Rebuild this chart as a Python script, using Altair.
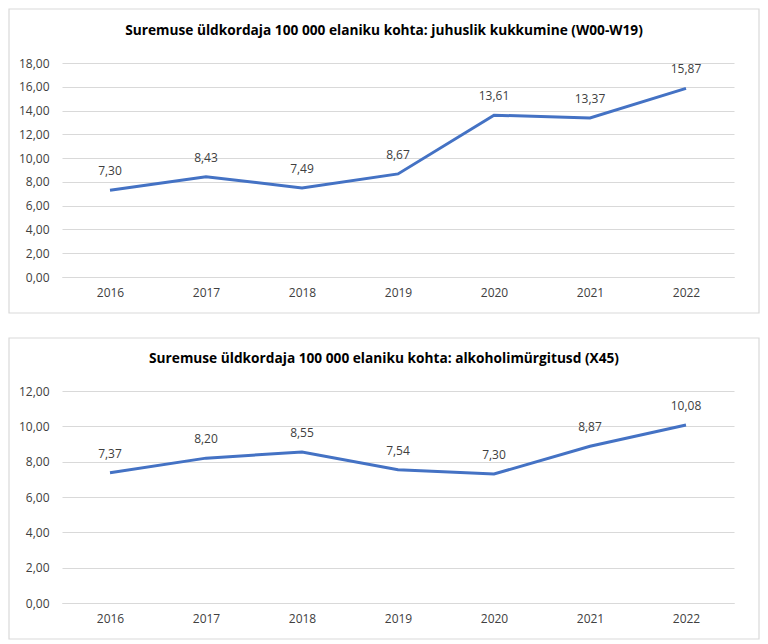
import altair as alt
import pandas as pd

years = ["2016", "2017", "2018", "2019", "2020", "2021", "2022"]
falls = [7.30, 8.43, 7.49, 8.67, 13.61, 13.37, 15.87]
alcohol = [7.37, 8.20, 8.55, 7.54, 7.30, 8.87, 10.08]

title_top = "Suremuse üldkordaja 100 000 elaniku kohta: juhuslik kukkumine (W00-W19)"
title_bottom = "Suremuse üldkordaja 100 000 elaniku kohta: alkoholimürgitusd (X45)"

FONT = "Open Sans"
LINE_COLOR = "#4472C4"
TEXT_COLOR = "#404040"
GRID = "#d9d9d9"
W = 672


def panel(values, title, ymax, h, frame_top, frame_bottom):
    df = pd.DataFrame({"year": years, "value": values})
    base = alt.Chart(df)
    x = alt.X("year:N", sort=years, title=None,
              axis=alt.Axis(labelAngle=0, ticks=False, domain=True, domainColor=GRID,
                            labelPadding=10, labelFont=FONT, labelFontSize=12,
                            labelColor=TEXT_COLOR, grid=False))
    y = alt.Y("value:Q", title=None,
              scale=alt.Scale(domain=[0, ymax], nice=False),
              axis=alt.Axis(values=list(range(0, ymax + 1, 2)), ticks=False, domain=False,
                            gridColor=GRID, gridWidth=1, labelPadding=13,
                            labelOverlap=False, labelFont=FONT, labelFontSize=12,
                            labelColor=TEXT_COLOR,
                            labelExpr="replace(format(datum.value, '.2f'), '.', ',')"))
    frame = alt.Chart(pd.DataFrame({"a": [0]})).mark_rect(
        fill="white", fillOpacity=0, stroke=GRID, strokeWidth=1.2
    ).encode(x=alt.value(-53), x2=alt.value(W + 25),
             y=alt.value(frame_top), y2=alt.value(frame_bottom))
    line = base.mark_line(color=LINE_COLOR, strokeWidth=3).encode(x=x, y=y)
    labels = base.transform_calculate(
        lab="replace(format(datum.value, '.2f'), '.', ',')"
    ).mark_text(dy=-19, font=FONT, fontSize=12, color=TEXT_COLOR, baseline="middle").encode(
        x=x, y=y, text="lab:N")
    ttl = alt.Chart(pd.DataFrame({"t": [title]})).mark_text(
        font=FONT, fontSize=13.7, fontWeight="bold", color="#000000", baseline="middle"
    ).encode(x=alt.value(322), y=alt.value(-32), text="t:N")
    return alt.layer(frame, line, labels, ttl).properties(width=W, height=h)


top = panel(falls, title_top, 18, 214, -54, 250)
bottom = panel(alcohol, title_bottom, 12, 212, -53, 248)

chart = alt.vconcat(top, bottom, spacing=23).properties(padding=0).configure_view(
    stroke=None
).configure_scale(bandPaddingInner=0, bandPaddingOuter=0.5)

chart.save("out.html", embed_options={"renderer": "svg", "actions": False})
